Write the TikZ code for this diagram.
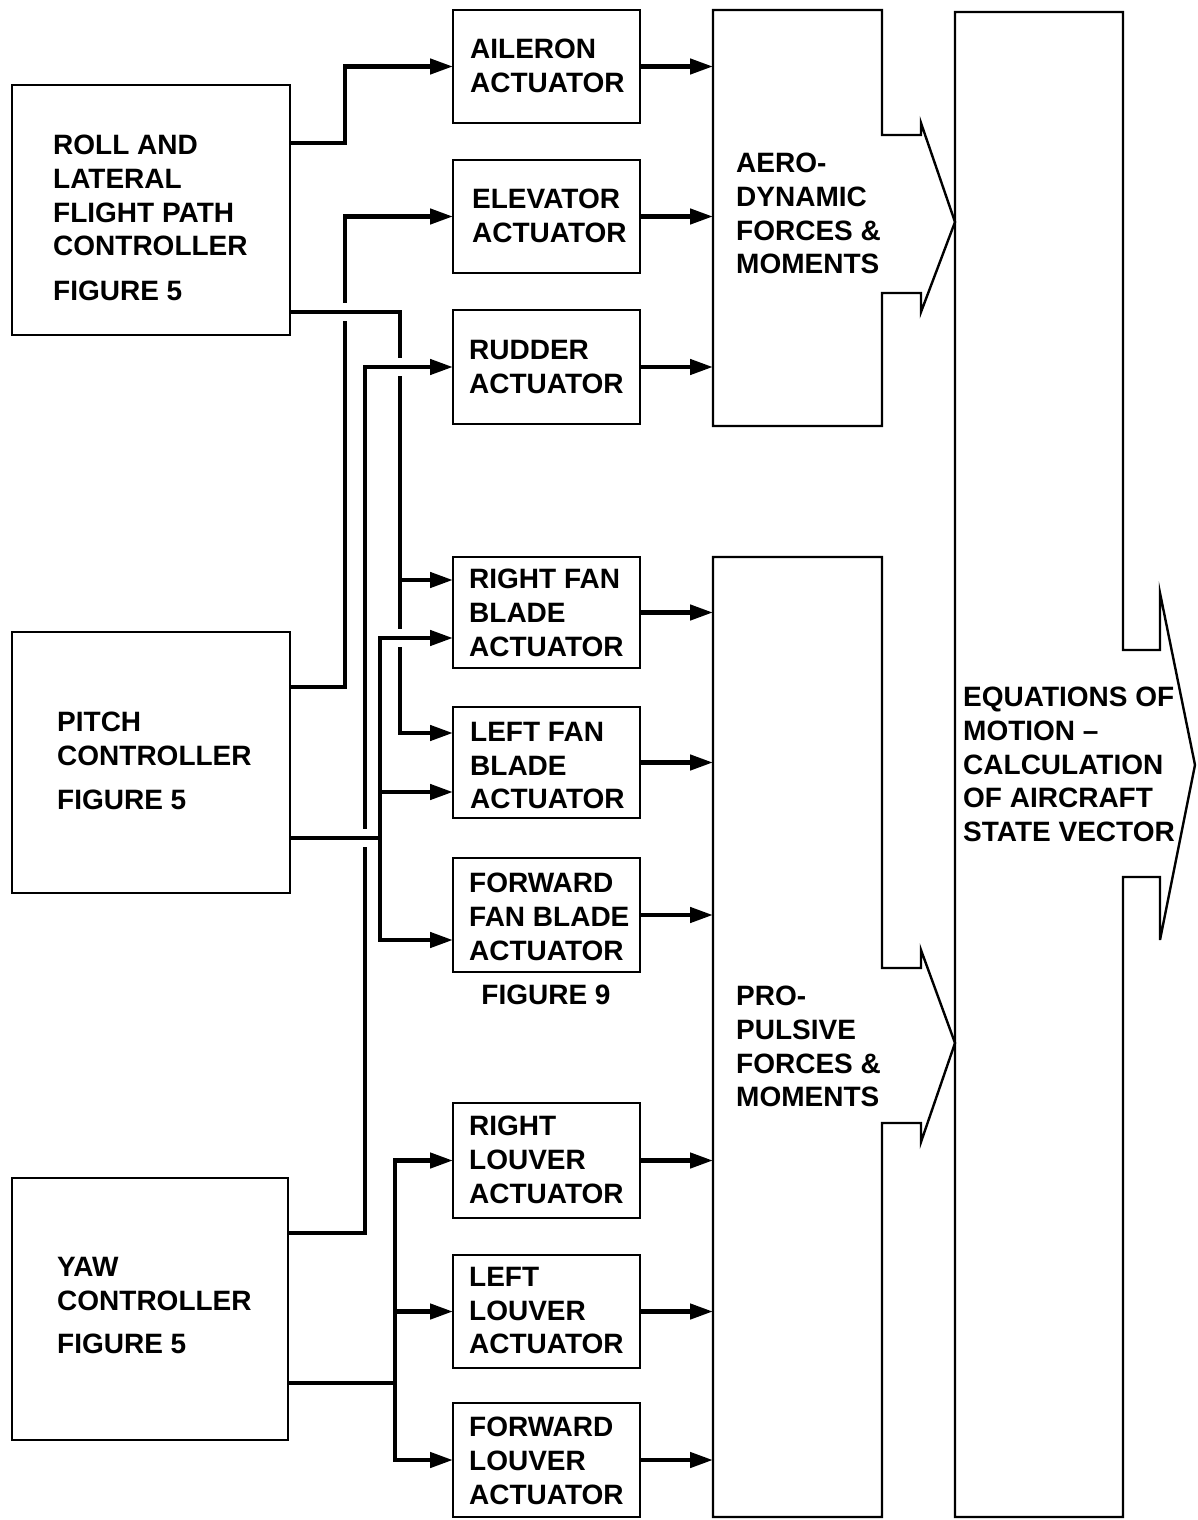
\documentclass[tikz,border=0pt]{standalone}
\usepackage{fontspec}
\setmainfont{Liberation Sans}
\usetikzlibrary{arrows.meta}
\begin{document}
\begin{tikzpicture}[x=1pt,y=-1pt,
  box/.style={draw, line width=2.4pt, anchor=north west, inner sep=0pt, outer sep=0pt},
  area/.style={anchor=north west, inner sep=0pt, outer sep=0pt},
  txt/.style={anchor=north west, inner sep=0pt, align=left, font=\fontsize{28}{33.7}\selectfont\bfseries},
  conn/.style={line width=4.5pt},
  arr/.style={conn, -{Triangle[length=23pt,width=15pt]}},
  outline/.style={line width=2.4pt, line join=miter},
]
\useasboundingbox (0,0) rectangle (1197,1520);

% controller boxes
\node[box, minimum width=278, minimum height=250] (roll) at (12,85) {};
\node[box, minimum width=278, minimum height=261] (pitch) at (12,632) {};
\node[box, minimum width=276, minimum height=262] (yaw) at (12,1178) {};

% actuator boxes
\node[box, minimum width=187, minimum height=113] (ail) at (453,10) {};
\node[box, minimum width=187, minimum height=113] (elev) at (453,160) {};
\node[box, minimum width=187, minimum height=114] (rud) at (453,310) {};
\node[box, minimum width=187, minimum height=111] (rfan) at (453,557) {};
\node[box, minimum width=187, minimum height=111] (lfan) at (453,707) {};
\node[box, minimum width=187, minimum height=114] (ffan) at (453,858) {};
\node[box, minimum width=187, minimum height=115] (rlou) at (453,1103) {};
\node[box, minimum width=187, minimum height=113] (llou) at (453,1255) {};
\node[box, minimum width=187, minimum height=114] (flou) at (453,1403) {};

% force boxes (areas for anchoring) and outlines
\node[area, minimum width=169, minimum height=416] (aero) at (713,10) {};
\node[area, minimum width=169, minimum height=960] (prop) at (713,557) {};
\node[area, minimum width=168, minimum height=1505] (eqm) at (955,12) {};

\draw[outline] (713,10) -- (882,10) -- (882,135) -- (921,135) -- (921,123)
  -- (955,222) -- (921,312) -- (921,293) -- (882,293) -- (882,426) -- (713,426) -- cycle;
\draw[outline] (713,557) -- (882,557) -- (882,968) -- (921,968) -- (921,950)
  -- (955,1043) -- (921,1142) -- (921,1123) -- (882,1123) -- (882,1517) -- (713,1517) -- cycle;
\draw[outline] (955,12) -- (1123,12) -- (1123,650) -- (1160,650) -- (1160,593)
  -- (1195,765) -- (1160,940) -- (1160,877) -- (1123,877) -- (1123,1517) -- (955,1517) -- cycle;

% texts
\node[txt] (troll) at (53,135) {ROLL AND\\LATERAL\\FLIGHT PATH\\CONTROLLER\\[11pt]FIGURE 5};
\node[txt] (tpitch) at (57,712) {PITCH\\CONTROLLER\\[10pt]FIGURE 5};
\node[txt] (tyaw) at (57,1257) {YAW\\CONTROLLER\\[10pt]FIGURE 5};
\node[txt] (tail) at (470,39) {AILERON\\ACTUATOR};
\node[txt] (telev) at (472,189) {ELEVATOR\\ACTUATOR};
\node[txt] (trud) at (469,340) {RUDDER\\ACTUATOR};
\node[txt] (trfan) at (469,569) {RIGHT FAN\\BLADE\\ACTUATOR};
\node[txt] (tlfan) at (470,722) {LEFT FAN\\BLADE\\ACTUATOR};
\node[txt] (tffan) at (469,873) {FORWARD\\FAN BLADE\\ACTUATOR};
\node[txt, anchor=center] (tfig9) at (546,995) {FIGURE 9};
\node[txt] (trlou) at (469,1116) {RIGHT\\LOUVER\\ACTUATOR};
\node[txt] (tllou) at (469,1267) {LEFT\\LOUVER\\ACTUATOR};
\node[txt] (tflou) at (469,1417) {FORWARD\\LOUVER\\ACTUATOR};
\node[txt] (taero) at (736,153) {AERO-\\DYNAMIC\\FORCES \&\\MOMENTS};
\node[txt] (tprop) at (736,986) {PRO-\\PULSIVE\\FORCES \&\\MOMENTS};
\node[txt] (teqm) at (963,687) {EQUATIONS OF\\MOTION –\\CALCULATION\\OF AIRCRAFT\\STATE VECTOR};

% roll controller connectors
\draw[arr] (roll.east |- 0,143) -- (345,143) |- (ail.west);
\draw[arr] (roll.east |- 0,312) -- (400,312) |- (lfan.west |- 0,733);
\draw[arr] (400,580) -- (rfan.west |- 0,580);

% pitch controller connectors
\draw[arr] (pitch.east |- 0,687) -- (345,687) |- (elev.west);
\draw[conn] (pitch.east |- 0,838) -- (380,838);
\draw[arr] (380,840) |- (rfan.west |- 0,638);
\draw[arr] (380,792) -- (lfan.west |- 0,792);
\draw[arr] (380,836) |- (ffan.west |- 0,940);

% yaw controller connectors
\draw[arr] (yaw.east |- 0,1233) -- (365,1233) |- (rud.west);
\draw[conn] (yaw.east |- 0,1383) -- (395,1383);
\draw[arr] (395,1385) |- (rlou.west);
\draw[arr] (395,1383) |- (llou.west);
\draw[arr] (395,1381) |- (flou.west);

% actuator outputs
\foreach \n/\t in {ail/aero, elev/aero, rud/aero, rfan/prop, lfan/prop, ffan/prop, rlou/prop, llou/prop, flou/prop}
  \draw[arr] (\n.east) -- (\n.east -| \t.west);

% crossing gaps
\foreach \x/\y in {345/312, 400/367, 400/638, 365/838} {
  \fill[white] (\x-5,\y-9) rectangle (\x+5,\y+9);
  \draw[conn] (\x-8,\y) -- (\x+8,\y);
}
\end{tikzpicture}
\end{document}
